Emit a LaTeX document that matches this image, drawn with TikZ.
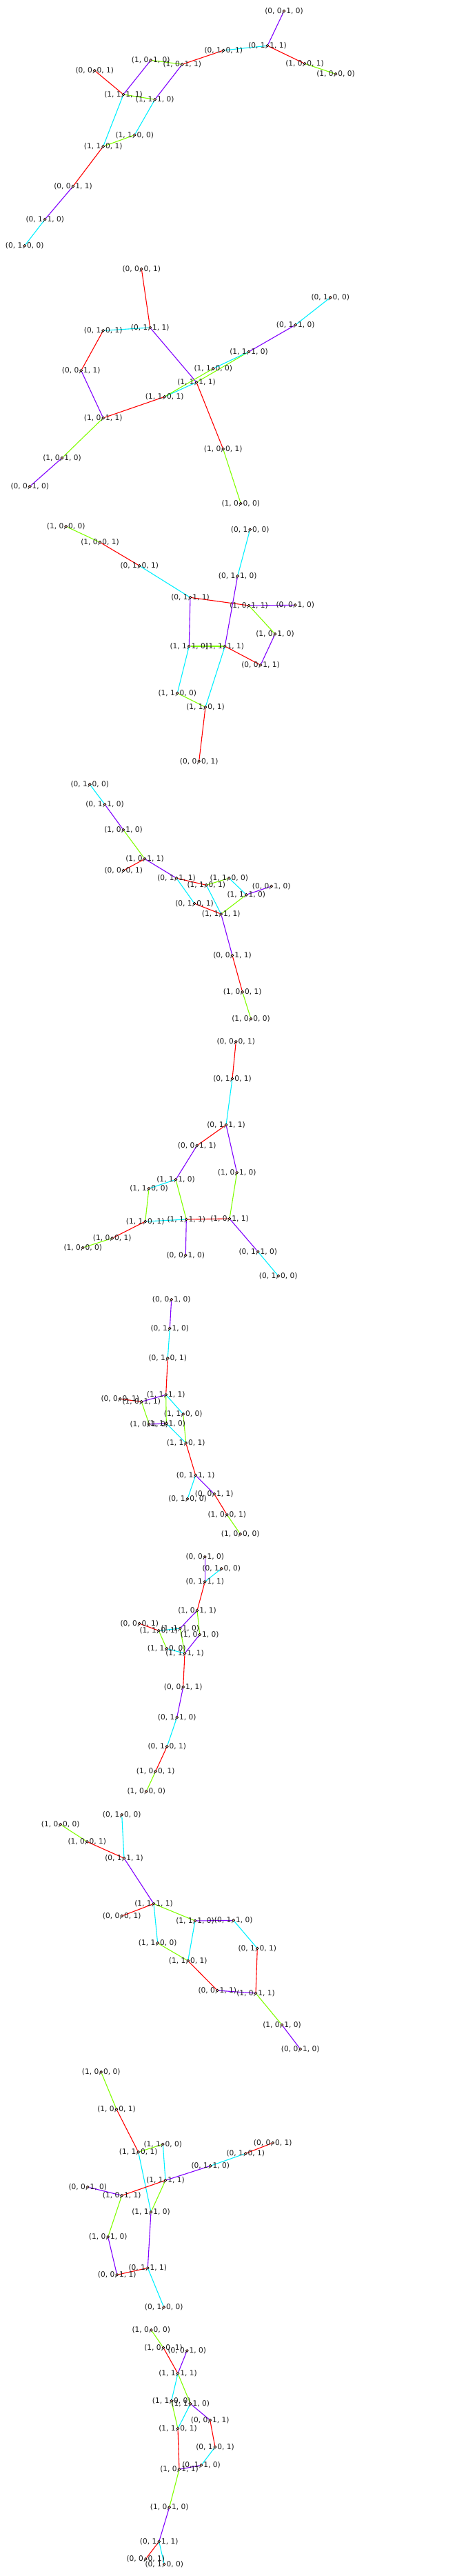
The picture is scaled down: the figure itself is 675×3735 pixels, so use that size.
\documentclass[tikz,border=0pt]{standalone}
\usepackage{fontspec}
\setmainfont{DejaVu Sans}
\pgfdeclarelayer{bg}
\pgfsetlayers{bg,main}
\definecolor{cP}{RGB}{128,0,255}
\definecolor{cC}{RGB}{0,240,255}
\definecolor{cR}{RGB}{255,0,0}
\definecolor{cG}{RGB}{128,255,0}
\definecolor{cDot}{RGB}{250,180,160}
\tikzset{
  dot/.style={circle,draw=black,fill=cDot,line width=0.7pt,inner sep=0pt,minimum size=3.8pt},
  lab/.style={inner sep=0pt,font=\fontsize{10.6}{12}\selectfont,text=black!90},
  eP/.style={cP,line width=1.1pt},
  eC/.style={cC,line width=1.1pt},
  eR/.style={cR,line width=1.1pt},
  eG/.style={cG,line width=1.1pt}
}
\newcommand{\vx}[4]{\node[dot] (#1) at (#2,#3) {}; \node[lab] (#1t) at (#1) {#4};}
\newcommand{\ed}[3]{\draw[#1] (#2) -- (#3);}
\begin{document}
\begin{tikzpicture}[x=1pt,y=-1pt]
\useasboundingbox (0,0) rectangle (675,3735);
% ---------- graph 1
\vx{A1}{412}{16}{(0, 0, 1, 0)}
\vx{B1}{388}{66.3}{(0, 1, 1, 1)}
\vx{C1}{324.3}{73}{(0, 1, 0, 1)}
\vx{D1}{442}{92.3}{(1, 0, 0, 1)}
\vx{E1}{487}{107.3}{(1, 0, 0, 0)}
\vx{F1}{264.3}{93.3}{(1, 0, 1, 1)}
\vx{G1}{218.7}{87.3}{(1, 0, 1, 0)}
\vx{H1}{137.3}{102.3}{(0, 0, 0, 1)}
\vx{I1}{179}{137}{(1, 1, 1, 1)}
\vx{J1}{224.7}{144.3}{(1, 1, 1, 0)}
\vx{K1}{195.3}{195.7}{(1, 1, 0, 0)}
\vx{L1}{149.7}{212.3}{(1, 1, 0, 1)}
\vx{M1}{106}{270}{(0, 0, 1, 1)}
\vx{N1}{65.3}{318}{(0, 1, 1, 0)}
\vx{O1}{35.7}{356.3}{(0, 1, 0, 0)}
% ---------- graph 2
\vx{A2}{205.3}{390}{(0, 0, 0, 1)}
\vx{B2}{217.7}{475}{(0, 1, 1, 1)}
\vx{C2}{149.7}{479.3}{(0, 1, 0, 1)}
\vx{D2}{117.7}{537.3}{(0, 0, 1, 1)}
\vx{E2}{149.7}{606}{(1, 0, 1, 1)}
\vx{F2}{238.7}{575.3}{(1, 1, 0, 1)}
\vx{G2}{285}{554.3}{(1, 1, 1, 1)}
\vx{H2}{309.3}{534.3}{(1, 1, 0, 0)}
\vx{I2}{361}{510}{(1, 1, 1, 0)}
\vx{J2}{428.7}{471}{(0, 1, 1, 0)}
\vx{K2}{479.3}{431.3}{(0, 1, 0, 0)}
\vx{L2}{90}{664}{(1, 0, 1, 0)}
\vx{M2}{43.3}{705.3}{(0, 0, 1, 0)}
\vx{N2}{323.7}{651}{(1, 0, 0, 1)}
\vx{O2}{349.3}{730}{(1, 0, 0, 0)}
% ---------- graph 3
\vx{A3}{95.7}{763.3}{(1, 0, 0, 0)}
\vx{B3}{145}{786.3}{(1, 0, 0, 1)}
\vx{C3}{202.3}{820.3}{(0, 1, 0, 1)}
\vx{D3}{276}{866.3}{(0, 1, 1, 1)}
\vx{E3}{362.7}{767.7}{(0, 1, 0, 0)}
\vx{F3}{344.7}{835.3}{(0, 1, 1, 0)}
\vx{G3}{361}{878}{(1, 0, 1, 1)}
\vx{H3}{428.3}{877.3}{(0, 0, 1, 0)}
\vx{I3}{399}{919.3}{(1, 0, 1, 0)}
\vx{J3}{274.3}{937}{(1, 1, 1, 0)}
\vx{K3}{326.3}{937}{(1, 1, 1, 1)}
\vx{L3}{378}{964.3}{(0, 0, 1, 1)}
\vx{M3}{257.3}{1005}{(1, 1, 0, 0)}
\vx{N3}{298}{1025.3}{(1, 1, 0, 1)}
\vx{O3}{288.7}{1103.7}{(0, 0, 0, 1)}
% ---------- graph 4
\vx{A4}{130.3}{1137.3}{(0, 1, 0, 0)}
\vx{B4}{152}{1166.3}{(0, 1, 1, 0)}
\vx{C4}{179}{1203.3}{(1, 0, 1, 0)}
\vx{D4}{210}{1245.3}{(1, 0, 1, 1)}
\vx{E4}{179.3}{1262}{(0, 0, 0, 1)}
\vx{F4}{256}{1273.3}{(0, 1, 1, 1)}
\vx{G4}{299.3}{1283.3}{(1, 1, 0, 1)}
\vx{H4}{332.3}{1273.3}{(1, 1, 0, 0)}
\vx{I4}{393.7}{1285}{(0, 0, 1, 0)}
\vx{J4}{357.3}{1297.3}{(1, 1, 1, 0)}
\vx{K4}{282}{1310}{(0, 1, 0, 1)}
\vx{L4}{320.7}{1325.3}{(1, 1, 1, 1)}
\vx{M4}{337}{1385.3}{(0, 0, 1, 1)}
\vx{N4}{351.7}{1438.3}{(1, 0, 0, 1)}
\vx{O4}{364}{1477.3}{(1, 0, 0, 0)}
% ---------- graph 5
\vx{A5}{342.3}{1510.3}{(0, 0, 0, 1)}
\vx{B5}{337}{1564}{(0, 1, 0, 1)}
\vx{C5}{328}{1631}{(0, 1, 1, 1)}
\vx{D5}{285.7}{1661}{(0, 0, 1, 1)}
\vx{E5}{343.7}{1700.3}{(1, 0, 1, 0)}
\vx{F5}{255}{1710.3}{(1, 1, 1, 0)}
\vx{G5}{216}{1723.3}{(1, 1, 0, 0)}
\vx{H5}{210.7}{1771}{(1, 1, 0, 1)}
\vx{I5}{270.3}{1768}{(1, 1, 1, 1)}
\vx{J5}{333}{1767}{(1, 0, 1, 1)}
\vx{K5}{162.7}{1795.3}{(1, 0, 0, 1)}
\vx{L5}{120.3}{1809}{(1, 0, 0, 0)}
\vx{M5}{269.3}{1820}{(0, 0, 1, 0)}
\vx{N5}{374.3}{1815}{(0, 1, 1, 0)}
\vx{O5}{403.7}{1850}{(0, 1, 0, 0)}
% ---------- graph 6
\vx{A6}{248.7}{1884.3}{(0, 0, 1, 0)}
\vx{B6}{246.3}{1926}{(0, 1, 1, 0)}
\vx{C6}{243.3}{1969.3}{(0, 1, 0, 1)}
\vx{D6}{240.7}{2022.3}{(1, 1, 1, 1)}
\vx{E6}{174.3}{2028.3}{(0, 0, 0, 1)}
\vx{F6}{205.3}{2032.3}{(1, 0, 1, 1)}
\vx{G6}{265.7}{2050.3}{(1, 1, 0, 0)}
\vx{H6}{216.3}{2065}{(1, 0, 1, 0)}
\vx{I6}{241.3}{2064}{(1, 1, 1, 0)}
\vx{J6}{269.7}{2092.3}{(1, 1, 0, 1)}
\vx{K6}{283.7}{2139}{(0, 1, 1, 1)}
\vx{L6}{272}{2173.3}{(0, 1, 0, 0)}
\vx{M6}{310.7}{2166}{(0, 0, 1, 1)}
\vx{N6}{329.3}{2196.3}{(1, 0, 0, 1)}
\vx{O6}{348.7}{2224.3}{(1, 0, 0, 0)}
% ---------- graph 7
\vx{A7}{297.3}{2257.3}{(0, 0, 1, 0)}
\vx{B7}{321.3}{2274.3}{(0, 1, 0, 0)}
\vx{C7}{297.3}{2293.3}{(0, 1, 1, 1)}
\vx{D7}{286}{2335}{(1, 0, 1, 1)}
\vx{E7}{202.3}{2354}{(0, 0, 0, 1)}
\vx{F7}{230.3}{2364.3}{(1, 1, 0, 1)}
\vx{G7}{261.3}{2361}{(1, 1, 1, 0)}
\vx{H7}{289.7}{2370}{(1, 0, 1, 0)}
\vx{I7}{241.7}{2390.3}{(1, 1, 0, 0)}
\vx{J7}{268}{2397.3}{(1, 1, 1, 1)}
\vx{K7}{265.7}{2446}{(0, 0, 1, 1)}
\vx{L7}{256.7}{2490}{(0, 1, 1, 0)}
\vx{M7}{242.3}{2532.3}{(0, 1, 0, 1)}
\vx{N7}{225.7}{2568.3}{(1, 0, 0, 1)}
\vx{O7}{212.3}{2597.3}{(1, 0, 0, 0)}
% ---------- graph 8
\vx{A8}{176.7}{2631.3}{(0, 1, 0, 0)}
\vx{B8}{87.7}{2645.3}{(1, 0, 0, 0)}
\vx{C8}{126.3}{2670.3}{(1, 0, 0, 1)}
\vx{D8}{180}{2694.3}{(0, 1, 1, 1)}
\vx{E8}{223}{2760.3}{(1, 1, 1, 1)}
\vx{F8}{176.7}{2778}{(0, 0, 0, 1)}
\vx{G8}{283}{2785}{(1, 1, 1, 0)}
\vx{H8}{338.7}{2784.3}{(0, 1, 1, 0)}
\vx{I8}{228.7}{2817.3}{(1, 1, 0, 0)}
\vx{J8}{272.7}{2843}{(1, 1, 0, 1)}
\vx{K8}{373.3}{2825}{(0, 1, 0, 1)}
\vx{L8}{315.3}{2886}{(0, 0, 1, 1)}
\vx{M8}{371}{2890}{(1, 0, 1, 1)}
\vx{N8}{409}{2936}{(1, 0, 1, 0)}
\vx{O8}{435.7}{2971}{(0, 0, 1, 0)}
% ---------- graph 9
\vx{A9}{146.7}{3004.3}{(1, 0, 0, 0)}
\vx{B9}{169}{3058.3}{(1, 0, 0, 1)}
\vx{C9}{200.7}{3120.3}{(1, 1, 0, 1)}
\vx{D9}{236.3}{3109}{(1, 1, 0, 0)}
\vx{E9}{395.7}{3107}{(0, 0, 0, 1)}
\vx{F9}{356.3}{3122.3}{(0, 1, 0, 1)}
\vx{G9}{305.3}{3140.3}{(0, 1, 1, 0)}
\vx{H9}{240}{3161.3}{(1, 1, 1, 1)}
\vx{I9}{127.3}{3171}{(0, 0, 1, 0)}
\vx{J9}{176.7}{3183.3}{(1, 0, 1, 1)}
\vx{K9}{219}{3207.3}{(1, 1, 1, 0)}
\vx{L9}{156.7}{3243.3}{(1, 0, 1, 0)}
\vx{M9}{169.7}{3298.3}{(0, 0, 1, 1)}
\vx{N9}{214.3}{3288.3}{(0, 1, 1, 1)}
\vx{O9}{237.7}{3345.3}{(0, 1, 0, 0)}
% ---------- graph 10
\vx{A10}{219.3}{3378.3}{(1, 0, 0, 0)}
\vx{B10}{237}{3404}{(1, 0, 0, 1)}
\vx{C10}{271.3}{3408.3}{(0, 0, 1, 0)}
\vx{D10}{258}{3441.3}{(1, 1, 1, 1)}
\vx{E10}{248.7}{3481}{(1, 1, 0, 0)}
\vx{F10}{276.3}{3485.3}{(1, 1, 1, 0)}
\vx{G10}{304.7}{3509}{(0, 0, 1, 1)}
\vx{H10}{258}{3521.3}{(1, 1, 0, 1)}
\vx{I10}{312}{3548}{(0, 1, 0, 1)}
\vx{J10}{292}{3574.3}{(0, 1, 1, 0)}
\vx{K10}{260}{3580.3}{(1, 0, 1, 1)}
\vx{L10}{245.7}{3635.3}{(1, 0, 1, 0)}
\vx{M10}{230.7}{3685}{(0, 1, 1, 1)}
\vx{N10}{211.3}{3710.3}{(0, 0, 0, 1)}
\vx{O10}{238.3}{3718}{(0, 1, 0, 0)}
\begin{pgfonlayer}{bg}
% graph 1
\ed{eP}{A1}{B1} \ed{eC}{B1}{C1} \ed{eR}{B1}{D1} \ed{eG}{D1}{E1}
\ed{eR}{C1}{F1} \ed{eG}{F1}{G1} \ed{eP}{G1}{I1} \ed{eR}{H1}{I1}
\ed{eG}{I1}{J1} \ed{eP}{F1}{J1} \ed{eC}{I1}{L1} \ed{eC}{J1}{K1}
\ed{eG}{K1}{L1} \ed{eR}{L1}{M1} \ed{eP}{M1}{N1} \ed{eC}{N1}{O1}
% graph 2
\ed{eR}{A2}{B2} \ed{eC}{B2}{C2} \ed{eR}{C2}{D2} \ed{eP}{D2}{E2}
\ed{eR}{E2}{F2} \ed{eG}{E2}{L2} \ed{eP}{L2}{M2} \ed{eP}{B2}{G2}
\ed{eC}{F2}{G2} \ed{eG}{F2}{H2} \ed{eG}{G2}{I2} \ed{eC}{H2}{I2}
\ed{eP}{I2}{J2} \ed{eC}{J2}{K2} \ed{eR}{G2}{N2} \ed{eG}{N2}{O2}
% graph 3
\ed{eG}{A3}{B3} \ed{eR}{B3}{C3} \ed{eC}{C3}{D3} \ed{eR}{D3}{G3}
\ed{eP}{G3}{H3} \ed{eG}{G3}{I3} \ed{eP}{D3}{J3} \ed{eC}{F3}{E3}
\ed{eP}{F3}{K3} \ed{eP}{I3}{L3} \ed{eG}{J3}{K3} \ed{eR}{K3}{L3}
\ed{eC}{J3}{M3} \ed{eC}{K3}{N3} \ed{eG}{M3}{N3} \ed{eR}{N3}{O3}
% graph 4
\ed{eC}{A4}{B4} \ed{eP}{B4}{C4} \ed{eG}{C4}{D4} \ed{eR}{D4}{E4}
\ed{eP}{D4}{F4} \ed{eR}{F4}{G4} \ed{eC}{F4}{K4} \ed{eG}{G4}{H4}
\ed{eC}{G4}{L4} \ed{eC}{H4}{J4} \ed{eP}{J4}{I4} \ed{eG}{J4}{L4}
\ed{eR}{K4}{L4} \ed{eP}{L4}{M4} \ed{eR}{M4}{N4} \ed{eG}{N4}{O4}
% graph 5
\ed{eR}{A5}{B5} \ed{eC}{B5}{C5} \ed{eR}{C5}{D5} \ed{eP}{C5}{E5}
\ed{eP}{D5}{F5} \ed{eC}{F5}{G5} \ed{eG}{F5}{I5} \ed{eG}{G5}{H5}
\ed{eC}{H5}{I5} \ed{eR}{H5}{K5} \ed{eG}{K5}{L5} \ed{eR}{I5}{J5}
\ed{eP}{I5}{M5} \ed{eG}{E5}{J5} \ed{eP}{J5}{N5} \ed{eC}{N5}{O5}
% graph 6
\ed{eP}{A6}{B6} \ed{eC}{B6}{C6} \ed{eR}{C6}{D6} \ed{eP}{D6}{F6}
\ed{eR}{E6}{F6} \ed{eC}{D6}{G6} \ed{eG}{D6}{I6} \ed{eG}{F6}{H6}
\ed{eP}{H6}{I6} \ed{eG}{G6}{J6} \ed{eC}{I6}{J6} \ed{eR}{J6}{K6}
\ed{eC}{K6}{L6} \ed{eP}{K6}{M6} \ed{eR}{M6}{N6} \ed{eG}{N6}{O6}
% graph 7
\ed{eP}{A7}{C7} \ed{eC}{B7}{C7} \ed{eR}{C7}{D7} \ed{eP}{D7}{G7}
\ed{eG}{D7}{H7} \ed{eR}{E7}{F7} \ed{eC}{F7}{G7} \ed{eG}{F7}{I7}
\ed{eG}{G7}{J7} \ed{eP}{H7}{J7} \ed{eC}{I7}{J7} \ed{eR}{J7}{K7}
\ed{eP}{K7}{L7} \ed{eC}{L7}{M7} \ed{eR}{M7}{N7} \ed{eG}{N7}{O7}
% graph 8
\ed{eC}{A8}{D8} \ed{eG}{B8}{C8} \ed{eR}{C8}{D8} \ed{eP}{D8}{E8}
\ed{eR}{E8}{F8} \ed{eG}{E8}{G8} \ed{eC}{E8}{I8} \ed{eP}{G8}{H8}
\ed{eC}{G8}{J8} \ed{eC}{H8}{K8} \ed{eG}{I8}{J8} \ed{eR}{J8}{L8}
\ed{eP}{L8}{M8} \ed{eR}{K8}{M8} \ed{eG}{M8}{N8} \ed{eP}{N8}{O8}
% graph 9
\ed{eG}{A9}{B9} \ed{eR}{B9}{C9} \ed{eG}{C9}{D9} \ed{eC}{C9}{K9}
\ed{eC}{D9}{H9} \ed{eR}{E9}{F9} \ed{eC}{F9}{G9} \ed{eP}{G9}{H9}
\ed{eR}{H9}{J9} \ed{eG}{H9}{K9} \ed{eP}{I9}{J9} \ed{eG}{J9}{L9}
\ed{eP}{K9}{N9} \ed{eP}{L9}{M9} \ed{eR}{M9}{N9} \ed{eC}{N9}{O9}
% graph 10
\ed{eG}{A10}{B10} \ed{eR}{B10}{D10} \ed{eP}{C10}{D10} \ed{eC}{D10}{E10}
\ed{eG}{D10}{F10} \ed{eG}{E10}{H10} \ed{eC}{F10}{H10} \ed{eP}{F10}{G10}
\ed{eR}{G10}{I10} \ed{eC}{I10}{J10} \ed{eP}{J10}{K10} \ed{eR}{H10}{K10}
\ed{eG}{K10}{L10} \ed{eP}{L10}{M10} \ed{eR}{M10}{N10} \ed{eC}{M10}{O10}
\end{pgfonlayer}
\end{tikzpicture}
\end{document}
